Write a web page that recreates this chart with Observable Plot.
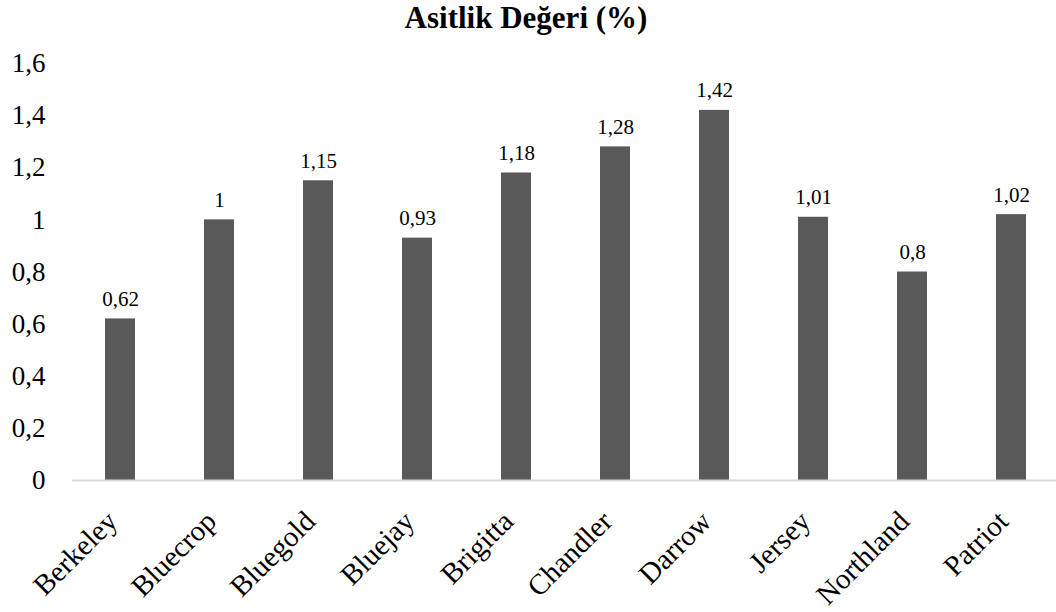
<!DOCTYPE html>
<html>
<head>
<meta charset="utf-8">
<script src="https://cdn.jsdelivr.net/npm/d3@7"></script>
<script src="https://cdn.jsdelivr.net/npm/@observablehq/plot@0.6"></script>
<style>
  body { margin: 0; background: #fff; }
  #title { height: 40px; line-height: 36px; text-align: center; font-family: "Liberation Serif", "Times New Roman", serif; font-weight: bold; font-size: 31px; color: #000; padding-right: 4px; }
  svg { display: block; }
</style>
</head>
<body>
<div id="title">Asitlik Değeri (%)</div>
<div id="chart"></div>
<script>
const categories = ["Berkeley", "Bluecrop", "Bluegold", "Bluejay", "Brigitta", "Chandler", "Darrow", "Jersey", "Northland", "Patriot"];
const values = [0.62, 1, 1.15, 0.93, 1.18, 1.28, 1.42, 1.01, 0.8, 1.02];
const yTicks = [0, 0.2, 0.4, 0.6, 0.8, 1, 1.2, 1.4, 1.6];

const data = categories.map((c, i) => ({cat: c, val: values[i]}));
const fmt = d => String(d).replace(".", ",");

const chart = Plot.plot({
  width: 1056,
  height: 572,
  marginLeft: 72,
  marginRight: 0,
  marginTop: 23,
  marginBottom: 132,
  style: {fontFamily: "'Liberation Serif', 'Times New Roman', serif", background: "#fff", color: "#000"},
  x: {domain: categories, range: [72, 1059], paddingInner: 0.697, paddingOuter: 0.33, label: null},
  y: {domain: [0, 1.6], ticks: yTicks, label: null},
  marks: [
    Plot.axisY({ticks: yTicks, tickSize: 0, tickPadding: 27, tickFormat: fmt, fontSize: 27, label: null}),
    Plot.barY(data, {x: "cat", y: "val", fill: "#595959"}),
    Plot.ruleY([0], {stroke: "#d9d9d9", strokeWidth: 2}),
    Plot.axisX({tickSize: 0, tickRotate: -45, tickPadding: 0, fontSize: 29, label: null, textAnchor: "end", dx: -8, dy: 36}),
    Plot.text(data, {x: "cat", y: "val", text: d => fmt(d.val), dy: -13, lineAnchor: "bottom", fontSize: 21, fill: "#000"})
  ]
});
document.getElementById("chart").appendChild(chart);
</script>
</body>
</html>
